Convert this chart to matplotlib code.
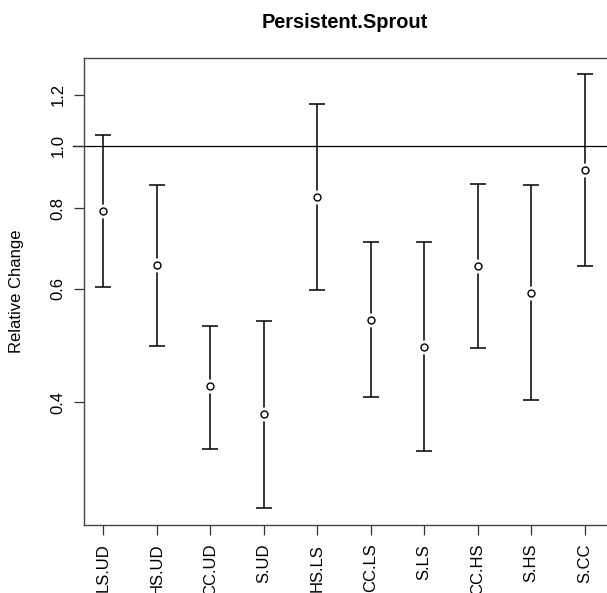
import numpy as np
from matplotlib import pyplot as plt
from matplotlib.ticker import FixedLocator, NullLocator

# values (log-scaled y axis)
labels = ['LS.UD', 'HS.UD', 'CC.UD', 'S.UD', 'HS.LS', 'CC.LS', 'S.LS', 'CC.HS', 'S.HS', 'S.CC']
estimate = [0.793, 0.654, 0.424, 0.383, 0.833, 0.537, 0.488, 0.651, 0.592, 0.918]
upper = [1.04, 0.870, 0.526, 0.535, 1.162, 0.710, 0.710, 0.873, 0.870, 1.293]
lower = [0.604, 0.490, 0.339, 0.274, 0.598, 0.407, 0.336, 0.486, 0.404, 0.651]
y_ticks = [0.4, 0.6, 0.8, 1.0, 1.2]

plt.rcParams['font.family'] = ['Liberation Sans', 'DejaVu Sans']

fig = plt.figure(figsize=(6.07, 5.93), dpi=100)
W, H = 607, 593
ax = fig.add_axes([84 / W, (H - 525) / H, (620 - 84) / W, (525 - 58) / H])

x = np.arange(1, len(labels) + 1)
est = np.array(estimate)
lo = np.array(lower)
hi = np.array(upper)

ax.errorbar(x, est, yerr=[est - lo, hi - est], fmt='none', ecolor='black',
            elinewidth=1.1, capsize=5.5, capthick=1.1, zorder=2)
ax.plot(x, est, 'o', ms=9, mfc='white', mec='white', zorder=3)
ax.plot(x, est, 'o', ms=5, mfc='white', mec='black', mew=1.0, zorder=4)

ax.axhline(1.0, xmin=-0.021, xmax=1, color='black', lw=0.9, clip_on=False, zorder=1)

ax.set_yscale('log')
ax.set_ylim(0.258, 1.369)
ax.set_xlim(0.64, 10.66)

ax.yaxis.set_major_locator(FixedLocator(y_ticks))
ax.yaxis.set_minor_locator(NullLocator())
ax.set_yticks(y_ticks)
ax.set_yticklabels(['%.1f' % v for v in y_ticks], rotation=90, va='center')
ax.set_xticks(x)
ax.set_xticklabels(labels, rotation=90)

ax.tick_params(axis='both', length=7.5, width=0.9, labelsize=12, pad=6, color='#333333')
for side in ['left', 'bottom', 'top', 'right']:
    ax.spines[side].set_linewidth(1.0)
    ax.spines[side].set_color('#444444')

fig.text(17 / W, 1 - 291 / H, 'Relative Change', fontsize=12, rotation=90,
         ha='center', va='center')
fig.text(345 / W, 1 - 22 / H, 'Persistent.Sprout', fontsize=14.4, fontweight='bold',
         ha='center', va='center')

fig.savefig('out.png', dpi=100)
